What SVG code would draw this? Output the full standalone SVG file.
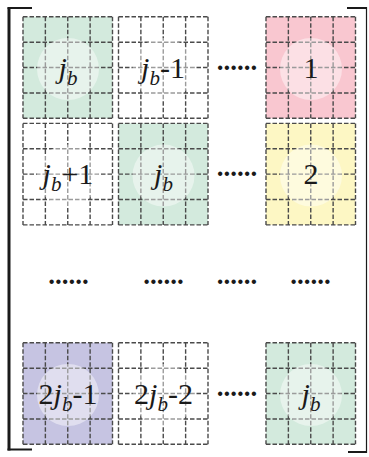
<svg xmlns="http://www.w3.org/2000/svg" xmlns:xlink="http://www.w3.org/1999/xlink" width="369" height="457" viewBox="0 0 369 457">
<style>
.grid{fill:none;stroke:#4a4a4a;stroke-width:1.4;stroke-dasharray:4.5 2}
.glow{fill:#ffffff;fill-opacity:0.45}
.lbl{font-family:"Liberation Serif","Times New Roman",serif;font-size:30px;fill:#1a1a1a;text-anchor:middle}
.it{font-style:italic}
.sub{font-style:italic;font-size:21px}
.dots{font-family:"Liberation Serif","Times New Roman",serif;font-size:27px;font-weight:bold;fill:#1a1a1a;text-anchor:middle}
.br{fill:none;stroke:#1a1a1a;stroke-linecap:butt}
</style>
<defs>
<path id="gl" class="grid" d="M0,0V101.5M22.375,0V101.5M44.75,0V101.5M67.125,0V101.5M89.5,0V101.5M0,0H89.5M0,25.375H89.5M0,50.75H89.5M0,76.125H89.5M0,101.5H89.5"/>
</defs>
<g id="brackets">
<path class="br" stroke-width="3" d="M9,7.5V450.5"/>
<path class="br" stroke-width="2.2" d="M7.5,8H32M7.5,449.5H32"/>
<path class="br" stroke-width="2.2" d="M347,8H367M348,452H367"/>
<path class="br" stroke-width="1.2" d="M366.5,7V453"/>
</g>
<g id="n11">
<rect x="23" y="16.8" width="89.5" height="101.5" fill="#d3eadd"/>
<use xlink:href="#gl" x="23" y="16.8"/>
<circle class="glow" cx="68" cy="69" r="31"/>
<text class="lbl" x="68" y="77.5"><tspan class="it">j</tspan><tspan class="sub" dy="7">b</tspan></text>
</g>
<g id="n12">
<rect x="118.5" y="16.8" width="89.5" height="101.5" fill="#ffffff"/>
<use xlink:href="#gl" x="118.5" y="16.8"/>
<circle class="glow" cx="163.5" cy="69" r="31"/>
<text class="lbl" x="163" y="77.5"><tspan class="it">j</tspan><tspan class="sub" dy="7">b</tspan><tspan dy="-7">-1</tspan></text>
</g>
<g id="n13">
<rect x="266" y="16.8" width="89.5" height="101.5" fill="#f9c7d0"/>
<use xlink:href="#gl" x="266" y="16.8"/>
<circle class="glow" cx="311" cy="69" r="31"/>
<text class="lbl" x="311" y="77.5">1</text>
</g>
<g id="n21">
<rect x="23" y="123.4" width="89.5" height="101.5" fill="#ffffff"/>
<use xlink:href="#gl" x="23" y="123.4"/>
<circle class="glow" cx="68" cy="175.6" r="31"/>
<text class="lbl" x="68" y="184"><tspan class="it">j</tspan><tspan class="sub" dy="7">b</tspan><tspan dy="-7">+1</tspan></text>
</g>
<g id="n22">
<rect x="118.5" y="123.4" width="89.5" height="101.5" fill="#d3eadd"/>
<use xlink:href="#gl" x="118.5" y="123.4"/>
<circle class="glow" cx="163.5" cy="175.6" r="31"/>
<text class="lbl" x="163.5" y="184"><tspan class="it">j</tspan><tspan class="sub" dy="7">b</tspan></text>
</g>
<g id="n23">
<rect x="266" y="123.4" width="89.5" height="101.5" fill="#fdf7c4"/>
<use xlink:href="#gl" x="266" y="123.4"/>
<circle class="glow" cx="311" cy="175.6" r="31"/>
<text class="lbl" x="311" y="184">2</text>
</g>
<g id="n41">
<rect x="23" y="342.8" width="89.5" height="101.5" fill="#c6c4e2"/>
<use xlink:href="#gl" x="23" y="342.8"/>
<circle class="glow" cx="68" cy="395" r="31"/>
<text class="lbl" x="68" y="403.5">2<tspan class="it">j</tspan><tspan class="sub" dy="7">b</tspan><tspan dy="-7">-1</tspan></text>
</g>
<g id="n42">
<rect x="118.5" y="342.8" width="89.5" height="101.5" fill="#ffffff"/>
<use xlink:href="#gl" x="118.5" y="342.8"/>
<circle class="glow" cx="163.5" cy="395" r="31"/>
<text class="lbl" x="163.5" y="403.5">2<tspan class="it">j</tspan><tspan class="sub" dy="7">b</tspan><tspan dy="-7">-2</tspan></text>
</g>
<g id="n43">
<rect x="266" y="342.8" width="89.5" height="101.5" fill="#d3eadd"/>
<use xlink:href="#gl" x="266" y="342.8"/>
<circle class="glow" cx="311" cy="395" r="31"/>
<text class="lbl" x="311" y="403.5"><tspan class="it">j</tspan><tspan class="sub" dy="7">b</tspan></text>
</g>
<g id="ellipses">
<text class="dots" x="237" y="69.5">......</text>
<text class="dots" x="237" y="176">......</text>
<text class="dots" x="68.5" y="283.5">......</text>
<text class="dots" x="163.5" y="283.5">......</text>
<text class="dots" x="237" y="283.5">......</text>
<text class="dots" x="310.5" y="283.5">......</text>
<text class="dots" x="237" y="395.5">......</text>
</g>
</svg>
